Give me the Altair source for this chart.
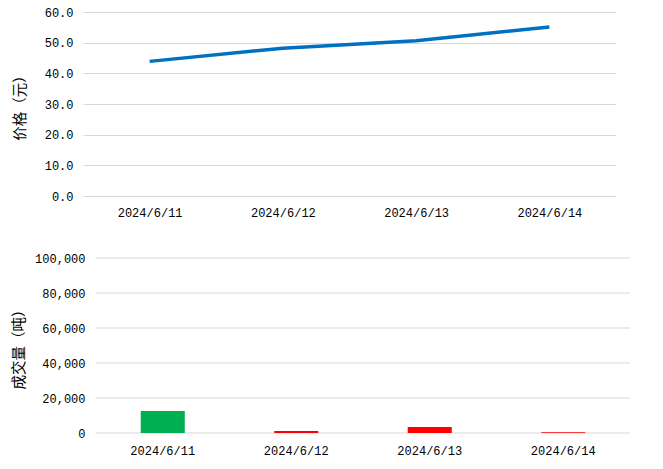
import altair as alt
import pandas as pd

dates = ["2024/6/11", "2024/6/12", "2024/6/13", "2024/6/14"]
prices = [43.9, 48.2, 50.6, 55.1]
volumes = [12600, 1100, 3400, 500]
price_ticks = [0, 10, 20, 30, 40, 50, 60]
volume_ticks = [0, 20000, 40000, 60000, 80000, 100000]

df_p = pd.DataFrame({"date": dates, "price": prices})
df_v = pd.DataFrame({"date": dates, "volume": volumes})
df_grid = pd.DataFrame({"volume": volume_ticks})

LABEL_FONT = "Liberation Mono"
TITLE_FONT = "Noto Sans CJK SC"
LS = 12
LC = "#000000"
GRID = "#D9D9D9"

top = alt.Chart(df_p).mark_line(color="#0070C0", strokeWidth=3.5, strokeCap="butt").encode(
    x=alt.X("date:N", sort=dates, title=None,
            axis=alt.Axis(labelAngle=0, ticks=False, domain=False, grid=False,
                          labelPadding=11, labelFontSize=LS, labelFont=LABEL_FONT,
                          labelColor=LC)),
    y=alt.Y("price:Q", title="价格（元）", scale=alt.Scale(domain=[0, 60], nice=False),
            axis=alt.Axis(values=price_ticks, format=".1f", ticks=False,
                          domain=False, gridColor=GRID, labelPadding=10,
                          labelFontSize=LS, labelFont=LABEL_FONT, labelColor=LC,
                          titleFont=TITLE_FONT, titleFontSize=14.5, titleFontWeight="normal",
                          titleColor=LC, titlePadding=17)),
).properties(width=533, height=184)

y_vol = alt.Y("volume:Q", title="成交量（吨）", scale=alt.Scale(domain=[0, 100000], nice=False),
              axis=alt.Axis(values=volume_ticks, format=",.0f", offset=-13,
                            ticks=False, domain=False, grid=False, labelPadding=11,
                            labelFontSize=LS, labelFont=LABEL_FONT, labelColor=LC,
                            titleFont=TITLE_FONT, titleFontSize=14.5, titleFontWeight="normal",
                            titleColor=LC, titlePadding=8))

x_vol = alt.X("date:N", sort=dates, title=None,
              scale=alt.Scale(paddingInner=0.67, paddingOuter=0.335, range=[13, 547]),
              axis=alt.Axis(labelAngle=0, ticks=False, domain=False, grid=False,
                            labelPadding=12, labelFontSize=LS, labelFont=LABEL_FONT,
                            labelColor=LC))

grid_rules = alt.Chart(df_grid).mark_rule(color=GRID, strokeWidth=1).encode(
    y=y_vol,
    x=alt.value(13),
    x2=alt.value(547),
)

bars = alt.Chart(df_v).mark_bar().encode(
    x=x_vol,
    y=y_vol,
    color=alt.condition(alt.datum.date == "2024/6/11", alt.value("#00B050"), alt.value("#FF0000")),
)

bottom = alt.layer(grid_rules, bars).properties(width=547, height=175)

chart = alt.concat(top, bottom, columns=1, spacing=34).properties(
    padding={"top": -2, "left": 3, "right": 0, "bottom": 4}
).configure(
    background="white",
    view=alt.ViewConfig(strokeWidth=0),
)

chart.save("out.html", embed_options={"renderer": "svg", "actions": False})
